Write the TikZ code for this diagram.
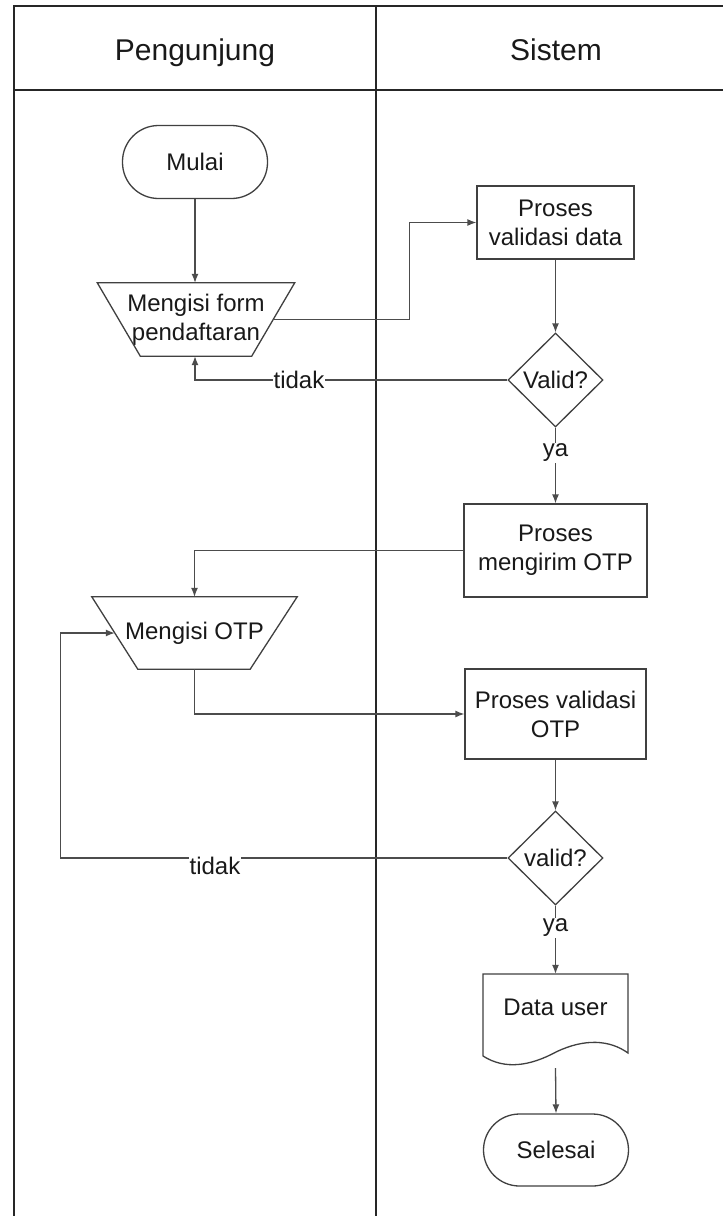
\documentclass[tikz,border=0pt]{standalone}
\usepackage{fontspec}
\setmainfont{Liberation Sans}
\usetikzlibrary{shapes.geometric,arrows.meta,calc}
\begin{document}
\begin{tikzpicture}[x=1pt,y=-1pt,
  frame/.style={line width=1.8pt,draw=black!85},
  shp/.style={line width=1.3pt,draw=black!75},
  txt/.style={font=\fontsize{24}{29}\selectfont,align=center,text=black!90,inner sep=0pt},
  term/.style={shp,txt,rectangle,rounded corners=36pt,minimum width=145pt,minimum height=73pt},
  proc/.style={shp,txt,rectangle,minimum width=157pt,minimum height=73pt},
  dec/.style={shp,txt,diamond,aspect=1,minimum width=95pt,minimum height=94pt},
  box/.style={txt,rectangle},
  arr/.style={line width=1.3pt,draw=black!70,-{Latex[length=9pt,width=7pt]}},
  lbl/.style={txt,fill=white,inner sep=1pt}]
\useasboundingbox (0,0) rectangle (723,1216);
\fill[white] (0,0) rectangle (723,1216);
% swimlane frame
\draw[frame] (14,1230) -- (14,6) -- (740,6);
\draw[frame] (14,90) -- (740,90);
\draw[frame] (376,6) -- (376,1230);
\node[txt,font=\fontsize{30}{36}\selectfont,anchor=base] (h1) at (195,60) {Pengunjung};
\node[txt,font=\fontsize{30}{36}\selectfont,anchor=base] (h2) at (556,60) {Sistem};
% nodes
\node[term] (mulai) at (195,162) {Mulai};
\node[box,minimum width=197pt,minimum height=73pt] (form) at (196,319.5) {Mengisi form\\pendaftaran};
\draw[shp] (form.north west) -- (form.north east) -- ($(form.south east)+(-43,0)$) -- ($(form.south west)+(43,0)$) -- cycle;
\coordinate (formR) at ($(form.east)+(-21.5,0)$);
\node[proc] (vdata) at (555.5,222.5) {Proses\\validasi data};
\node[dec] (valid1) at (555.5,380) {Valid?};
\node[proc,minimum width=183pt,minimum height=93pt] (kirim) at (555.5,550.5) {Proses\\mengirim OTP};
\node[box,minimum width=205pt,minimum height=72pt] (otp) at (194.5,633) {Mengisi OTP};
\draw[shp] (otp.north west) -- (otp.north east) -- ($(otp.south east)+(-47,0)$) -- ($(otp.south west)+(46,0)$) -- cycle;
\coordinate (otpL) at ($(otp.west)+(23,0)$);
\node[proc,minimum width=181pt,minimum height=90pt] (votp) at (555.5,714) {Proses validasi\\OTP};
\node[dec] (valid2) at (555.5,858) {valid?};
\node[box,minimum width=145pt,minimum height=94pt,text depth=0pt] (doc) at (555.5,1021) {};
\node[txt] (doctxt) at (555.5,1007) {Data user};
\draw[shp] (483,1056) -- (483,974) -- (628,974) -- (628,1053)
  .. controls (610,1040) and (585,1038) .. (556,1052)
  .. controls (530,1066) and (505,1070) .. (483,1056);
\node[term,minimum height=72pt] (selesai) at (556,1150) {Selesai};
% connectors
\draw[arr] (mulai.south) -- (mulai.south |- form.north);
\draw[arr] (formR) -- ++(136.5,0) |- (vdata.west);
\draw[arr] (vdata.south) -- (valid1.north);
\draw[arr] (valid1.west) -| (mulai.south |- form.south);
\node[lbl] (t1) at (299,380) {tidak};
\draw[arr] (valid1.south) -- (kirim.north);
\node[lbl] (y1) at (555.5,453) {ya};
\draw[arr] (kirim.west) -| (otp.north);
\draw[arr] (otp.south) |- (votp.west);
\draw[arr] (votp.south) -- (valid2.north);
\draw[arr] (valid2.west) -| ($(otp.west)+(-31,0)$) -- (otpL);
\node[lbl] (t2) at (215,866) {tidak};
\draw[arr] (valid2.south) -- (doc.north);
\node[lbl] (y2) at (555.5,928) {ya};
\draw[arr] (doc.south) -- (selesai.north);
\end{tikzpicture}
\end{document}
